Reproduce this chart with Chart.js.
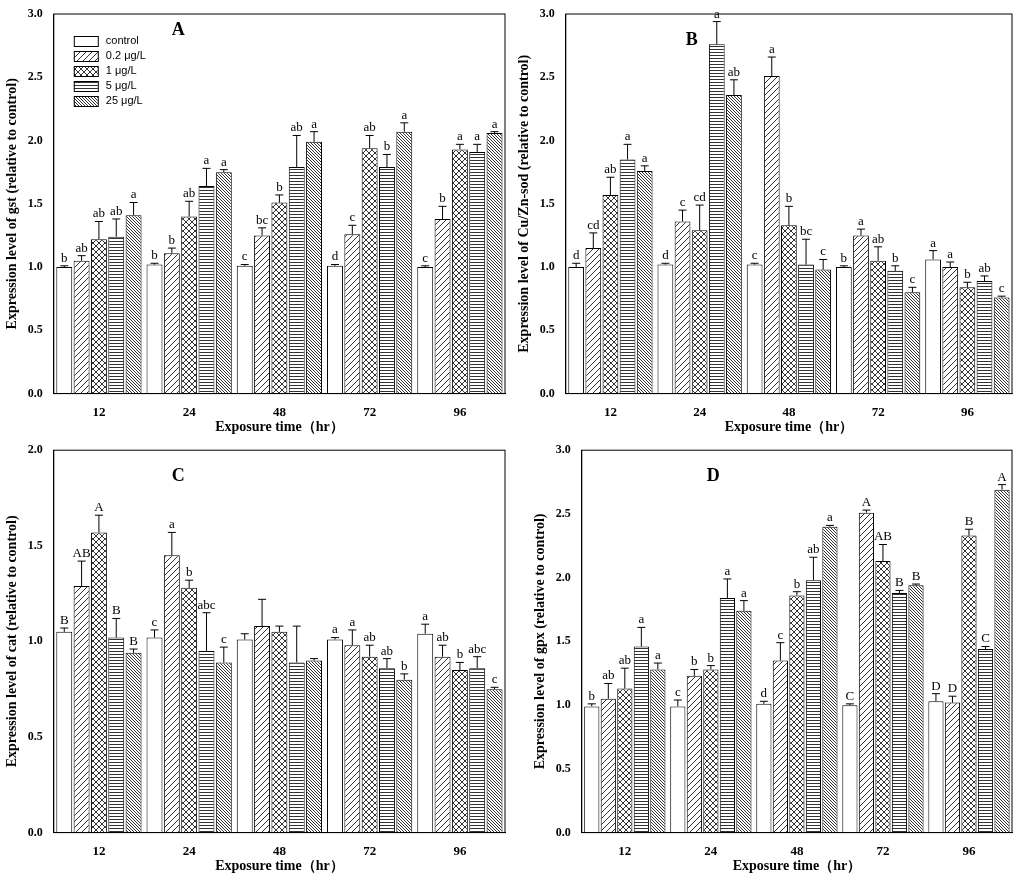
<!DOCTYPE html><html><head><meta charset="utf-8">
<script src="https://cdn.jsdelivr.net/npm/chart.js@4"></script>
<style>body{margin:0;background:#fff;width:1024px;height:881px;position:relative;overflow:hidden}
.c{position:absolute}</style></head><body>
<div class="c" style="left:0;top:0;width:512px;height:440px"><canvas id="A"></canvas></div>
<div class="c" style="left:512px;top:0;width:512px;height:440px"><canvas id="B"></canvas></div>
<div class="c" style="left:0;top:440px;width:512px;height:441px"><canvas id="C"></canvas></div>
<div class="c" style="left:512px;top:440px;width:512px;height:441px"><canvas id="D"></canvas></div>
<script>
const categories=['12','24','48','72','96'];
const seriesNames=['control','0.2 μg/L','1 μg/L','5 μg/L','25 μg/L'];
const valuesA=[[1.0,1.02,1.01,1.01,1.0],[1.05,1.11,1.25,1.26,1.38],[1.22,1.40,1.51,1.94,1.93],[1.24,1.64,1.79,1.79,1.91],[1.41,1.75,1.99,2.07,2.06]];
const errA=[[0.01,0.01,0.01,0.01,0.01],[0.04,0.04,0.06,0.07,0.1],[0.14,0.12,0.06,0.1,0.04],[0.14,0.14,0.25,0.1,0.06],[0.1,0.02,0.08,0.07,0.01]];
const lettersA=[['b','b','c','d','c'],['ab','b','bc','c','b'],['ab','ab','b','ab','a'],['ab','a','ab','b','a'],['a','a','a','a','a']];
const valuesB=[[1.0,1.02,1.02,1.0,1.06],[1.15,1.36,2.51,1.25,1.0],[1.57,1.29,1.33,1.05,0.84],[1.85,2.76,1.02,0.97,0.89],[1.76,2.36,0.98,0.80,0.76]];
const errB=[[0.03,0.01,0.01,0.01,0.07],[0.12,0.09,0.15,0.05,0.04],[0.14,0.2,0.15,0.11,0.04],[0.12,0.18,0.2,0.04,0.04],[0.04,0.12,0.08,0.04,0.01]];
const lettersB=[['d','d','c','b','a'],['cd','c','a','a','a'],['ab','cd','b','ab','b'],['a','a','bc','b','ab'],['a','ab','c','c','c']];
const valuesC=[[1.05,1.02,1.01,1.01,1.04],[1.29,1.45,1.08,0.98,0.92],[1.57,1.28,1.05,0.92,0.85],[1.02,0.95,0.89,0.86,0.86],[0.94,0.89,0.90,0.80,0.75]];
const errC=[[0.02,0.04,0.03,0.01,0.05],[0.13,0.12,0.14,0.08,0.06],[0.09,0.04,0.03,0.06,0.04],[0.1,0.2,0.19,0.05,0.06],[0.02,0.08,0.01,0.03,0.01]];
const lettersC=[['B','c','','a','a'],['AB','a','','a','ab'],['A','b','','ab','b'],['B','abc','','ab','abc'],['B','c','','b','c']];
const valuesD=[[0.99,0.99,1.01,1.0,1.03],[1.05,1.23,1.35,2.51,1.02],[1.13,1.28,1.86,2.13,2.33],[1.46,1.84,1.98,1.88,1.44],[1.28,1.74,2.40,1.94,2.69]];
const errD=[[0.02,0.05,0.02,0.01,0.06],[0.12,0.05,0.14,0.02,0.05],[0.16,0.03,0.03,0.13,0.05],[0.15,0.15,0.18,0.02,0.02],[0.05,0.08,0.01,0.01,0.04]];
const lettersD=[['b','c','d','C','D'],['ab','b','c','A','D'],['ab','b','b','AB','B'],['a','a','ab','B','C'],['a','a','a','B','A']];

function pat(kind){
  const s=6,c=document.createElement('canvas');c.width=s;c.height=s;const g=c.getContext('2d');
  g.fillStyle='#fff';g.fillRect(0,0,s,s);g.strokeStyle='#333';g.lineWidth=1;g.beginPath();
  if(kind==1){g.moveTo(0,s);g.lineTo(s,0);g.moveTo(-1,1);g.lineTo(1,-1);g.moveTo(s-1,s+1);g.lineTo(s+1,s-1);}
  if(kind==2){g.moveTo(0,s);g.lineTo(s,0);g.moveTo(0,0);g.lineTo(s,s);}
  if(kind==3){g.moveTo(0,1.5);g.lineTo(s,1.5);g.moveTo(0,4.5);g.lineTo(s,4.5);}
  if(kind==4){g.moveTo(0,0);g.lineTo(s,s);g.moveTo(0,3);g.lineTo(3,s);g.moveTo(3,0);g.lineTo(s,3);g.moveTo(s-1,-1);g.lineTo(s+1,1);g.moveTo(-1,s-1);g.lineTo(1,s+1);}
  if(kind>0)g.stroke();
  return document.createElement('canvas').getContext('2d').createPattern(c,'repeat');
}
const fills=[0,1,2,3,4].map(pat);
const F='"Liberation Serif", serif';
function make(id,vals,errs,lets,ymax,ytitle,panel,pad,legend,panelPos){
  const plug={id:'x'+id,afterDatasetsDraw(ch){
    const g=ch.ctx;const y=ch.scales.y;g.save();
    ch.data.datasets.forEach((d,i)=>{ch.getDatasetMeta(i).data.forEach((b,j)=>{
      const top=y.getPixelForValue(vals[i][j]+errs[i][j]);const base=b.y;
      g.strokeStyle='#000';g.lineWidth=1;g.beginPath();g.moveTo(b.x,base);g.lineTo(b.x,top);
      g.moveTo(b.x-4,top);g.lineTo(b.x+4,top);g.stroke();
      g.fillStyle='#000';
      g.font='13px '+F;g.textAlign='center';g.textBaseline='bottom';g.fillText(lets[i][j],b.x,top-1);
    });});
    const ca=ch.chartArea;
    g.font='bold 18px '+F;g.fillStyle='#000';g.textAlign='left';g.textBaseline='middle';g.fillText(panel,ca.left+panelPos[0],ca.top+panelPos[1]);
    if(legend){seriesNames.forEach((n,i)=>{const x=ca.left+20,yy=ca.top+22+i*15;
      g.fillStyle=fills[i];g.fillRect(x,yy,24,10);g.strokeStyle='#000';g.strokeRect(x+.5,yy+.5,24,10);
      g.fillStyle='#000';g.font='11px "Liberation Sans", sans-serif';g.textBaseline='middle';g.fillText(n,x+32,yy+5);});}
    g.strokeStyle='#000';g.lineWidth=1;g.strokeRect(ca.left,ca.top,ca.right-ca.left,ca.bottom-ca.top);
    g.restore();}};
  new Chart(document.getElementById(id),{type:'bar',
    data:{labels:categories,datasets:vals.map((v,i)=>({label:seriesNames[i],data:v,backgroundColor:fills[i],borderColor:'#000',borderWidth:1}))},
    options:{responsive:true,maintainAspectRatio:false,animation:false,layout:{padding:pad},
      categoryPercentage:0.96,barPercentage:0.92,
      plugins:{legend:{display:false},tooltip:{enabled:false}},
      scales:{x:{grid:{display:false,drawTicks:true},border:{color:'#000'},ticks:{color:'#000',font:{family:F,size:13,weight:'bold'}},
        title:{display:true,text:'Exposure time（hr）',color:'#000',font:{family:F,size:14,weight:'bold'},padding:{top:-4}}},
        y:{min:0,max:ymax,ticks:{stepSize:0.5,color:'#000',callback:v=>v.toFixed(1),font:{family:F,size:12,weight:'bold'}},grid:{display:false},border:{color:'#000'},
        title:{display:true,text:ytitle,color:'#000',font:{family:F,size:14,weight:'bold'}}}}},plugins:[plug]});
}
make('A',valuesA,errA,lettersA,3,'Expression level of gst (relative to control)','A',{top:14,right:7,left:0,bottom:0},true,[118,16]);
make('B',valuesB,errB,lettersB,3,'Expression level of Cu/Zn-sod (relative to control)','B',{top:14,right:12,left:0,bottom:0},false,[120,26]);
make('C',valuesC,errC,lettersC,2,'Expression level of cat (relative to control)','C',{top:6,right:7,left:0,bottom:2},false,[118,26]);
make('D',valuesD,errD,lettersD,3,'Expression level of gpx (relative to control)','D',{top:6,right:12,left:16,bottom:2},false,[125,26]);
</script></body></html>
